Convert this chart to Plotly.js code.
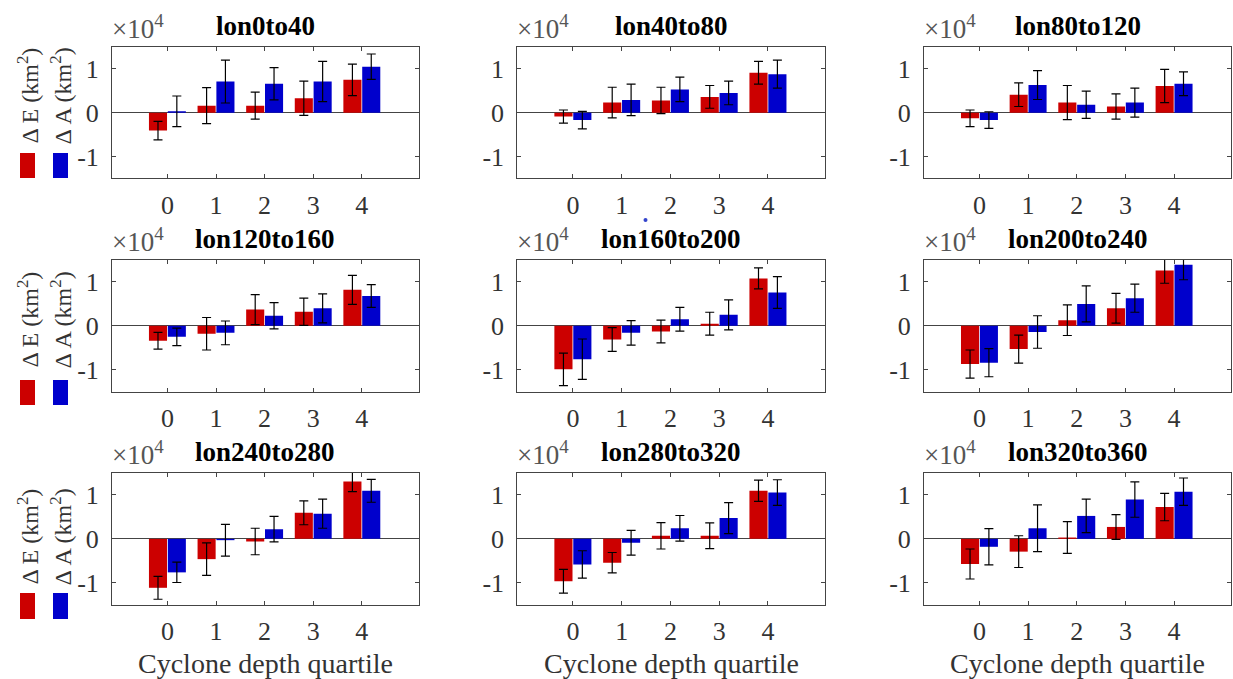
<!DOCTYPE html>
<html>
<head>
<meta charset="utf-8">
<script src="https://cdn.plot.ly/plotly-3.0.1.min.js"></script>
<style>html,body{margin:0;padding:0;background:#fff;}#chart{width:1233px;height:679px;}</style>
</head>
<body>
<div id="chart"></div>
<script>
// Cyclone depth quartiles (x categories)
const quartiles = [0, 1, 2, 3, 4];
const quartileLabels = ["0", "1", "2", "3", "4"];
const regions = ["lon0to40", "lon40to80", "lon80to120", "lon120to160", "lon160to200",
                 "lon200to240", "lon240to280", "lon280to320", "lon320to360"];
const yTickVals = [-1, 0, 1];
const yTickLabels = ["-1", "0", "1"];

// Values in units of 1e4 km^2 (axis shows x10^4)
const dE_lon0to40      = [-0.41, 0.16, 0.16, 0.33, 0.75];
const dE_lon0to40_err  = [0.21, 0.41, 0.31, 0.39, 0.36];
const dA_lon0to40      = [0.03, 0.71, 0.66, 0.71, 1.05];
const dA_lon0to40_err  = [0.35, 0.49, 0.37, 0.46, 0.29];

const dE_lon40to80     = [-0.09, 0.23, 0.28, 0.36, 0.91];
const dE_lon40to80_err = [0.15, 0.35, 0.30, 0.26, 0.26];
const dA_lon40to80     = [-0.17, 0.29, 0.53, 0.45, 0.88];
const dA_lon40to80_err = [0.20, 0.36, 0.28, 0.27, 0.32];

const dE_lon80to120     = [-0.13, 0.41, 0.23, 0.14, 0.61];
const dE_lon80to120_err = [0.19, 0.27, 0.39, 0.29, 0.38];
const dA_lon80to120     = [-0.17, 0.63, 0.18, 0.23, 0.66];
const dA_lon80to120_err = [0.19, 0.33, 0.31, 0.33, 0.27];

const dE_lon120to160     = [-0.34, -0.18, 0.37, 0.32, 0.82];
const dE_lon120to160_err = [0.19, 0.37, 0.34, 0.31, 0.33];
const dA_lon120to160     = [-0.25, -0.16, 0.23, 0.40, 0.68];
const dA_lon120to160_err = [0.20, 0.27, 0.30, 0.33, 0.26];

const dE_lon160to200     = [-0.99, -0.31, -0.13, 0.05, 1.08];
const dE_lon160to200_err = [0.37, 0.27, 0.26, 0.26, 0.24];
const dA_lon160to200     = [-0.76, -0.16, 0.15, 0.25, 0.76];
const dA_lon160to200_err = [0.46, 0.28, 0.27, 0.34, 0.36];

const dE_lon200to240     = [-0.87, -0.53, 0.13, 0.40, 1.26];
const dE_lon200to240_err = [0.32, 0.32, 0.35, 0.34, 0.29];
const dA_lon200to240     = [-0.84, -0.14, 0.50, 0.63, 1.39];
const dA_lon200to240_err = [0.32, 0.37, 0.41, 0.32, 0.34];

const dE_lon240to280     = [-1.11, -0.46, -0.06, 0.59, 1.30];
const dE_lon240to280_err = [0.26, 0.37, 0.30, 0.27, 0.23];
const dA_lon240to280     = [-0.76, -0.03, 0.22, 0.57, 1.09];
const dA_lon240to280_err = [0.23, 0.36, 0.29, 0.33, 0.26];

const dE_lon280to320     = [-0.96, -0.54, 0.07, 0.07, 1.09];
const dE_lon280to320_err = [0.27, 0.23, 0.30, 0.29, 0.24];
const dA_lon280to320     = [-0.58, -0.09, 0.24, 0.47, 1.05];
const dA_lon280to320_err = [0.31, 0.28, 0.29, 0.35, 0.29];

const dE_lon320to360     = [-0.57, -0.29, 0.03, 0.27, 0.72];
const dE_lon320to360_err = [0.34, 0.36, 0.36, 0.28, 0.31];
const dA_lon320to360     = [-0.18, 0.24, 0.52, 0.89, 1.07];
const dA_lon320to360_err = [0.41, 0.53, 0.38, 0.40, 0.31];

const panels = [
  [dE_lon0to40, dE_lon0to40_err, dA_lon0to40, dA_lon0to40_err],
  [dE_lon40to80, dE_lon40to80_err, dA_lon40to80, dA_lon40to80_err],
  [dE_lon80to120, dE_lon80to120_err, dA_lon80to120, dA_lon80to120_err],
  [dE_lon120to160, dE_lon120to160_err, dA_lon120to160, dA_lon120to160_err],
  [dE_lon160to200, dE_lon160to200_err, dA_lon160to200, dA_lon160to200_err],
  [dE_lon200to240, dE_lon200to240_err, dA_lon200to240, dA_lon200to240_err],
  [dE_lon240to280, dE_lon240to280_err, dA_lon240to280, dA_lon240to280_err],
  [dE_lon280to320, dE_lon280to320_err, dA_lon280to320, dA_lon280to320_err],
  [dE_lon320to360, dE_lon320to360_err, dA_lon320to360, dA_lon320to360_err]
];

const W = 1233, H = 679;
const RED = "#cc0000", BLUE = "#0000cc";
const TXT = "#333333", AXC = "#444444";
const SERIF = "Liberation Serif, Times New Roman, serif";

const colPx = [[112, 418.7], [517.3, 825], [924, 1231]];
const rowPx = [[47, 178.3], [260, 391.7], [472.7, 605]];

const px2x = p => p / W;
const px2y = p => 1 - p / H;

const data = [];
const layout = {
  width: W, height: H,
  margin: {l: 0, r: 0, t: 0, b: 0},
  paper_bgcolor: "#ffffff", plot_bgcolor: "#ffffff",
  showlegend: false,
  barmode: "group", bargap: 0.225, bargroupgap: 0.04,
  font: {family: SERIF, color: TXT, size: 24},
  annotations: [], shapes: []
};

regions.forEach((name, i) => {
  const r = Math.floor(i / 3), c = i % 3;
  const n = i + 1;
  const xa = "x" + (n === 1 ? "" : n), ya = "y" + (n === 1 ? "" : n);
  const [E, Ee, A, Ae] = panels[i];
  const errStyle = (arr) => ({type: "data", array: arr, visible: true, color: "#000000", thickness: 1.2, width: 4.5});
  data.push({type: "bar", x: quartiles, y: E, error_y: errStyle(Ee), marker: {color: RED, line: {width: 0}}, xaxis: xa, yaxis: ya, name: "ΔE"});
  data.push({type: "bar", x: quartiles, y: A, error_y: errStyle(Ae), marker: {color: BLUE, line: {width: 0}}, xaxis: xa, yaxis: ya, name: "ΔA"});

  const xd = [px2x(colPx[c][0]), px2x(colPx[c][1])];
  const yd = [px2y(rowPx[r][1]), px2y(rowPx[r][0])];
  layout["xaxis" + (n === 1 ? "" : n)] = {
    domain: xd, anchor: ya, range: [-1.14, 5.17],
    tickvals: quartiles, ticktext: quartileLabels,
    ticks: "inside", ticklen: 4, tickcolor: AXC, tickwidth: 1,
    showline: true, linecolor: AXC, linewidth: 1, mirror: "ticks",
    showgrid: false, zeroline: false, fixedrange: true,
    ticklabelstandoff: 3,
    tickfont: {family: SERIF, size: 26, color: TXT}
  };
  layout["yaxis" + (n === 1 ? "" : n)] = {
    domain: yd, anchor: xa, range: [-1.5, 1.5],
    tickvals: yTickVals, ticktext: yTickLabels,
    ticks: "inside", ticklen: 4, tickcolor: AXC, tickwidth: 1,
    showline: true, linecolor: AXC, linewidth: 1, mirror: "ticks",
    showgrid: false, zeroline: true, zerolinecolor: AXC, zerolinewidth: 1,
    fixedrange: true, ticklabelstandoff: 7,
    tickfont: {family: SERIF, size: 26, color: TXT}
  };

  const xc = (colPx[c][0] + colPx[c][1]) / 2;
  // panel title
  layout.annotations.push({
    xref: "paper", yref: "paper", x: px2x(xc), y: px2y(rowPx[r][0] - 21),
    xanchor: "center", yanchor: "middle", showarrow: false,
    text: "<b>" + name + "</b>", font: {family: SERIF, size: 27, color: "#000000"}
  });
  // exponent label
  layout.annotations.push({
    xref: "paper", yref: "paper", x: px2x(colPx[c][0] - 2), y: px2y(rowPx[r][0] - 1),
    xanchor: "left", yanchor: "bottom", showarrow: false,
    text: "×10<sup>4</sup>", font: {family: SERIF, size: 27, color: "#555555"}
  });
  // x axis title on bottom row
  if (r === 2) {
    layout.annotations.push({
      xref: "paper", yref: "paper", x: px2x(xc), y: px2y(663),
      xanchor: "center", yanchor: "middle", showarrow: false,
      text: "Cyclone depth quartile", font: {family: SERIF, size: 28, color: TXT}
    });
  }
});

// Left-side legend per row: rotated labels + colour swatches
const legendTextCenters = [96, 320, 537];
const legendSquares = [[153, 178], [380, 405], [593, 619]];
for (let r = 0; r < 3; r++) {
  layout.annotations.push({
    xref: "paper", yref: "paper", x: px2x(27.5), y: px2y(legendTextCenters[r]),
    xanchor: "center", yanchor: "middle", showarrow: false, textangle: -90,
    text: "Δ E (km<sup>2</sup>)", font: {family: SERIF, size: 24, color: TXT}
  });
  layout.annotations.push({
    xref: "paper", yref: "paper", x: px2x(60.5), y: px2y(legendTextCenters[r]),
    xanchor: "center", yanchor: "middle", showarrow: false, textangle: -90,
    text: "Δ A (km<sup>2</sup>)", font: {family: SERIF, size: 24, color: TXT}
  });
  layout.shapes.push({
    type: "rect", xref: "paper", yref: "paper",
    x0: px2x(20), x1: px2x(35), y0: px2y(legendSquares[r][1]), y1: px2y(legendSquares[r][0]),
    fillcolor: RED, line: {width: 0}
  });
  layout.shapes.push({
    type: "rect", xref: "paper", yref: "paper",
    x0: px2x(53), x1: px2x(68), y0: px2y(legendSquares[r][1]), y1: px2y(legendSquares[r][0]),
    fillcolor: BLUE, line: {width: 0}
  });
}
// small stray dot present in the original figure
layout.shapes.push({
  type: "circle", xref: "paper", yref: "paper",
  x0: px2x(643.5), x1: px2x(647.5), y0: px2y(222), y1: px2y(218),
  fillcolor: "#3344cc", line: {width: 0}
});

Plotly.newPlot("chart", data, layout, {displayModeBar: false, staticPlot: true});
</script>
</body>
</html>
